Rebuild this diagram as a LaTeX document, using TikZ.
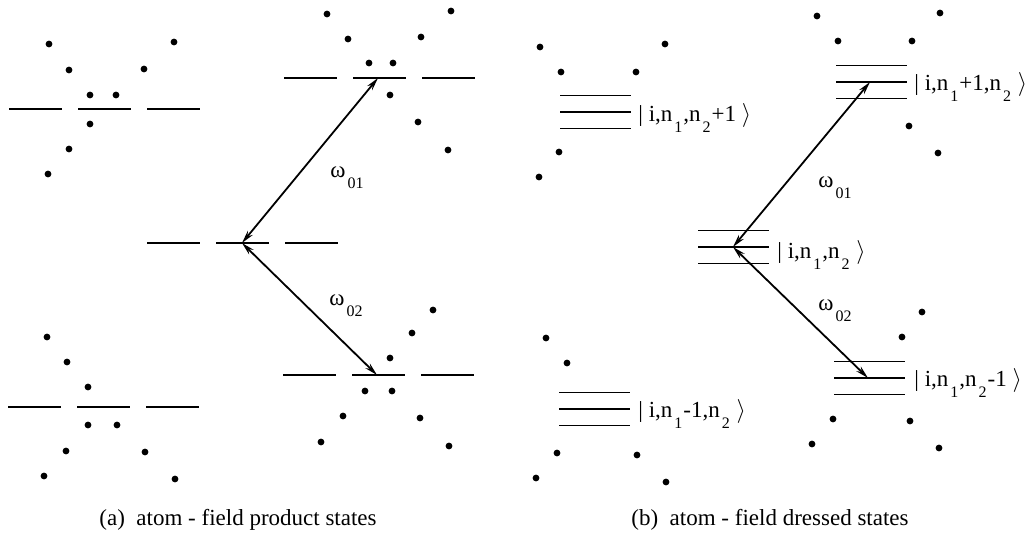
\documentclass[tikz,border=0pt]{standalone}
\usepackage{fontspec}
\setmainfont{Liberation Serif}
\usetikzlibrary{arrows.meta,positioning,calc}
\newcommand{\lsub}[1]{\kern1pt\raisebox{-5.5pt}{\fontsize{8}{9}\selectfont #1}\kern0.5pt}

\begin{document}
\begin{tikzpicture}[x=0.5pt,y=-0.5pt,
  >={Stealth[length=6.5pt,width=3.2pt]},
  level/.style={draw, line width=0.95pt},
  photon/.style={draw, line width=0.9pt, <->},
  ket/.style={anchor=base west, inner sep=0pt, font=\rmfamily\fontsize{11.5}{13}\selectfont},
  caption/.style={anchor=base, inner sep=0pt, font=\rmfamily\fontsize{11.5}{13}\selectfont}
  ]
  \useasboundingbox (0,0) rectangle (1025,536);

  % (a) product states
  \foreach \gx/\gy in {9/109, 284/78, 147/243, 8/407, 283/375}
    \foreach \k in {0,1,2}
      \draw[level] (\gx+69*\k,\gy) -- ++(53,0);
  \foreach \p in {(49,44),(69,70),(90,95),(116,95),(90,124),(69,149),(48,174),(174,42),(144,69),
                  (327,14),(348,39),(369,63),(393,63),(390,95),(418,122),(448,150),(451,11),(421,37),
                  (47,337),(67,362),(88,387),(88,425),(117,425),(66,451),(44,476),(145,452),(175,479),
                  (433,310),(412,333),(390,358),(365,391),(392,391),(343,416),(321,442),(420,418),(449,446)}
    \fill \p circle (1.7pt);
  \coordinate (pM)  at (242,243);
  \coordinate (pUR) at (378,78);
  \coordinate (pLR) at (377,375);
  \draw[photon] (pM) -- (pUR);
  \draw[photon] (pM) -- (pLR);
  \node[ket] (wA1) at (330,177) {ω\lsub{01}};
  \node[ket] (wA2) at (329,305) {ω\lsub{02}};
  \node[caption] (capA) at (238,525) {(a)\ \ atom - field product states};

  % (b) dressed states
  \foreach \gx/\gy in {560/112, 836/82, 698/247, 559/409, 834/378}
    \foreach \d in {-16.5,0,16.5}
      \draw[level] (\gx,\gy+\d) -- ++(71,0);
  \foreach \p in {(540,47),(561,72),(559,152),(539,177),(665,44),(636,72),
                  (817,16),(838,41),(912,41),(940,13),(909,126),(938,153),
                  (546,338),(567,363),(557,453),(536,478),(637,455),(666,482),
                  (922,312),(902,337),(833,419),(812,444),(910,421),(939,448)}
    \fill \p circle (1.7pt);
  \coordinate (dM)  at (733,247);
  \coordinate (dUR) at (870,82);
  \coordinate (dLR) at (868,378);
  \draw[photon] (dM) -- (dUR);
  \draw[photon] (dM) -- (dLR);
  \node[ket] (kUL) at (638,121) {\textbar\ i,n\lsub{1},n\lsub{2}+1\ $\rangle$};
  \node[ket] (kUR) at (914,90)  {\textbar\ i,n\lsub{1}+1,n\lsub{2}\ $\rangle$};
  \node[ket] (kM)  at (777,258) {\textbar\ i,n\lsub{1},n\lsub{2}\ $\rangle$};
  \node[ket] (kLL) at (638,417) {\textbar\ i,n\lsub{1}-1,n\lsub{2}\ $\rangle$};
  \node[ket] (kLR) at (914,386) {\textbar\ i,n\lsub{1},n\lsub{2}-1\ $\rangle$};
  \node[ket] (wB1) at (818,187) {ω\lsub{01}};
  \node[ket] (wB2) at (818,310) {ω\lsub{02}};
  \node[caption] (capB) at (770,525) {(b)\ \ atom - field dressed states};
\end{tikzpicture}
\end{document}
